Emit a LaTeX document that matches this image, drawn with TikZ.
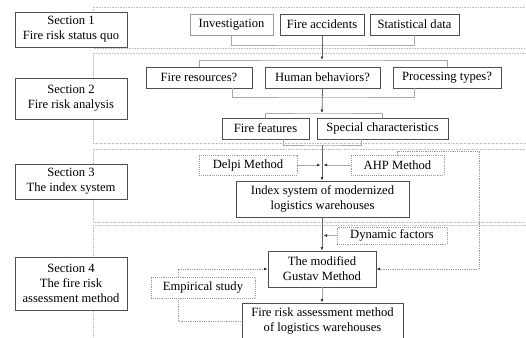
\documentclass[tikz,border=0pt]{standalone}
\usepackage{fontspec}
\setmainfont{Liberation Serif}
\usetikzlibrary{arrows.meta}
\definecolor{boxgray}{HTML}{4F4F4F}
\definecolor{linkgray}{HTML}{A8A8A8}
\definecolor{dotgray}{HTML}{9C9C9C}

\begin{document}
\begin{tikzpicture}[x=1pt,y=-1pt,
  every node/.style={font=\fontsize{12.6}{15}\selectfont, align=center, inner sep=1pt},
  box/.style={draw=boxgray, line width=0.9pt, fill=white, minimum height=21pt},
  lightbox/.style={box, draw=black!40},
  dotbox/.style={box, draw=dotgray, densely dotted, line width=0.8pt},
  sect/.style={box, minimum width=112pt},
  tip/.style={-{Latex[length=3.5pt,width=3pt,color=black!80]}},
  link/.style={draw=linkgray, line width=0.8pt},
  mainlink/.style={draw=black!60, line width=0.8pt, tip},
  dotlink/.style={draw=dotgray, densely dotted, line width=0.8pt},
  band/.style={draw=black!25, densely dotted, line width=0.6pt}]
\def\firstband{(93,7) rectangle (540,48)}
  \def\secondband{(93,53) rectangle (540,143)}
  \def\thirdband{(93,149) rectangle (540,222)}
  \def\fourthband{(93,225) rectangle (540,360)}
  \useasboundingbox (0,0) rectangle (526,337);
  \clip (0,0) rectangle (526,337);
      \draw[band] \firstband;
      \draw[band] \secondband;
      \draw[band] \thirdband;
      \draw[band] \fourthband;
  % sections
  \node[sect, minimum height=35pt] (s1) at (71,29.5) {Section 1\\Fire risk status quo};
  \node[sect, minimum height=41pt] (s2) at (71,98.5) {Section 2\\Fire risk analysis};
  \node[sect, minimum height=35pt] (s3) at (71,181.5) {Section 3\\The index system};
  \node[sect, minimum height=53pt] (s4) at (71,283.5) {Section 4\\The fire risk\\assessment method};
  % status quo
  \node[lightbox, minimum width=83pt] (inv) at (231.5,24.5) {Investigation};
  \node[box, minimum width=84pt] (acc) at (322,24.5) {Fire accidents};
  \node[box, minimum width=89pt] (stat) at (414.5,24.5) {Statistical data};
  % analysis
  \node[box, minimum width=106pt] (res) at (199,77.5) {Fire resources?};
  \node[box, minimum width=115pt] (hum) at (322.5,77.5) {Human behaviors?};
  \node[box, minimum width=108pt] (proc) at (447,77.5) {Processing types?};
  \node[box, minimum width=87pt] (feat) at (265.5,128.5) {Fire features};
  \node[box, minimum width=131pt] (spec) at (382.5,128.5) {Special characteristics};
  % index system
  \node[dotbox, minimum width=98pt, minimum height=20pt] (delpi) at (248,165) {Delpi Method};
  \node[dotbox, minimum width=93pt, minimum height=20pt] (ahp) at (397.5,165) {AHP Method};
  \node[box, minimum width=173pt, minimum height=36pt] (index) at (322.5,199) {Index system of modernized\\logistics warehouses};
  % assessment method
  \node[dotbox, minimum width=110pt, minimum height=17pt] (dyn) at (392,235.5) {Dynamic factors};
  \node[box, minimum width=108pt, minimum height=36pt] (gus) at (322,269) {The modified\\Gustav Method};
  \node[dotbox, minimum width=104pt] (emp) at (203,287.5) {Empirical study};
  \node[box, minimum width=161pt, minimum height=36pt] (ass) at (322.5,321) {Fire risk assessment method\\of logistics warehouses};
  % junctions on the middle line
  \coordinate (b1) at (322,45);
  \coordinate (b2) at (322,60);
  \coordinate (b3) at (322,97);
  \coordinate (b4) at (322,113);
  \coordinate (b5) at (322,145);
  \coordinate (m1) at (320.5,165);
  \coordinate (m2) at (323.5,165);
  \coordinate (d1) at (323.5,235.5);
  \coordinate (a1) at (479,151);
      \draw[link] (inv.south) |- (b1) -| (stat.south);
      \draw[mainlink] (acc.south) -- (b2);
      \draw[link] (res.north) |- (b2) -| (proc.north);
      \draw[link] ([xshift=33pt]res.south) |- (b3) -| ([xshift=-33pt]proc.south);
      \draw[mainlink] (hum.south) -- (b4);
      \draw[link] (feat.north) |- (b4) -| (spec.north);
      \draw[link] ([xshift=17.5pt]feat.south) |- (b5) -| ([xshift=-21.5pt]spec.south);
      \draw[mainlink] (b5) -- (b5 |- index.north);
      \draw[link, tip] (delpi.east) -- (m1);
      \draw[link, tip] (ahp.west) -- (m2);
      \draw[mainlink] (b5 |- index.south) -- (b5 |- gus.north);
      \draw[link, tip] (dyn.west) -- (d1);
      \draw[mainlink, draw=linkgray] (b5 |- gus.south) -- (b5 |- ass.north);
      \draw[dotlink, tip] (ahp.north) |- (a1) |- (gus.east);
      \draw[dotlink, tip] ([xshift=-25pt]emp.north) |- (gus.west);
      \draw[dotlink] ([xshift=-25pt]emp.south) |- (ass.west);
\end{tikzpicture}
\end{document}
